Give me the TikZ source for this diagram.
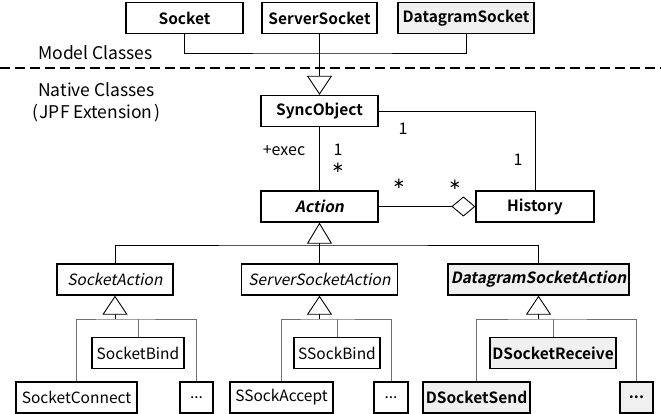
\documentclass[tikz,border=0pt]{standalone}
\usepackage{fontspec}
\setmainfont{Noto Sans CJK JP}[
  BoldFont={Noto Sans CJK JP Bold},
  ItalicFont={Noto Sans CJK JP},
  ItalicFeatures={FakeSlant=0.2},
  BoldItalicFont={Noto Sans CJK JP Bold},
  BoldItalicFeatures={FakeSlant=0.2}]
\newfontfamily\symfont{DejaVu Sans}
\usetikzlibrary{arrows.meta}
\definecolor{boxgray}{HTML}{F0F0F0}
\definecolor{subline}{HTML}{707070}

\begin{document}
\begin{tikzpicture}[x=1pt,y=-1pt,
  txt/.style={font=\fontsize{15.5}{18}\selectfont},
  box/.style={draw, line width=1.3pt, minimum height=31pt, inner sep=0pt, txt},
  cls/.style={box, font=\fontsize{15.5}{18}\selectfont\bfseries},
  abs/.style={box, font=\fontsize{15.5}{18}\selectfont\itshape},
  absb/.style={box, font=\fontsize{15.5}{18}\selectfont\bfseries\itshape},
  shaded/.style={fill=boxgray},
  lbl/.style={inner sep=0pt, font=\fontsize{17.5}{20}\selectfont},
  mult/.style={inner sep=0pt, font=\fontsize{16}{18}\selectfont},
  star/.style={inner sep=0pt, anchor=base, font=\symfont\fontsize{15}{18}\selectfont},
  conn/.style={draw, line width=0.9pt},
  sub/.style={draw, line width=0.9pt, subline},
  gen/.style={-{Triangle[length=19pt, width=25pt, fill=white]}},
  agg/.style={-{Diamond[length=24pt, width=20pt, fill=white]}}
]
\useasboundingbox (0,0) rectangle (661,414);

% model classes
\node[cls, minimum width=117pt] (socket) at (184.5,18) {Socket};
\node[cls, minimum width=115pt] (server) at (319.5,18) {ServerSocket};
\node[cls, shaded, minimum width=136pt] (dgram) at (466,18) {DatagramSocket};

% section captions and separator
\node[lbl, anchor=west] (model) at (38,53) {Model Classes};
\node[lbl, anchor=west] (native) at (38,90) {Native Classes};
\node[lbl, anchor=west] (jpf) at (32,113) {(\kern1.5pt JPF Extension\kern1.5pt)};
\coordinate (sepL) at (0,68);
\coordinate (sepR) at (661,68);
\draw[line width=1.4pt, dash pattern=on 10pt off 5pt] (sepL) -- (sepR);

% native classes
\node[cls, minimum width=117pt] (sync) at (319.5,111) {SyncObject};
\node[absb, minimum width=117pt] (action) at (319.5,206.5) {Action};
\node[cls, minimum width=118pt] (history) at (535,206.5) {History};

\node[abs, minimum width=116pt] (sockact) at (115,279.5) {SocketAction};
\node[abs, minimum width=156pt] (ssact) at (319.5,279.5) {ServerSocketAction};
\node[absb, shaded, minimum width=181pt] (dgact) at (538.5,279.5) {DatagramSocketAction};

\node[box, minimum width=92pt] (sbind) at (138,353) {SocketBind};
\node[box, minimum width=121pt] (sconn) at (76.5,397.5) {SocketConnect};
\node[box, minimum width=33pt] (dotsA) at (196.5,397.5) {...};

\node[box, minimum width=86pt] (ssbind) at (337,353) {SSockBind};
\node[box, minimum width=103pt] (ssacc) at (281.5,397.5) {SSockAccept};
\node[box, minimum width=34pt] (dotsB) at (391,397.5) {...};

\node[cls, shaded, minimum width=126pt] (drecv) at (553,353) {DSocketReceive};
\node[cls, shaded, minimum width=107pt] (dsend) at (476.5,397.5) {DSocketSend};
\node[cls, shaded, minimum width=33pt] (dotsC) at (636.5,397.5) {...};

% model classes generalise SyncObject
\coordinate (topjoin) at (319.5,53);
\draw[conn] (socket.south) |- (topjoin) -| (dgram.south);
\draw[conn, gen] (server.south) -- (sync.north);

% associations
\draw[conn] (sync.east) -| (history.north);
\node[mult] (mSyncH) at (403,129) {1};
\node[mult] (mHistS) at (518,160) {1};

\draw[conn] (sync.south) -- (action.north);
\node[mult] (exec) at (284,151) {+exec};
\node[mult] (mSyncA) at (338,150) {1};
\node[star] (mActS) at (338,172.5) {∗};

\draw[conn, agg] (action.east) -- (history.west);
\node[star] (mActH) at (399,188.5) {∗};
\node[star] (mHistA) at (455,189.5) {∗};

% action hierarchy
\coordinate (hub) at (319.5,245);
\draw[conn, -{Triangle[length=21pt, width=25pt, fill=white]}] (hub) -- (action.south);
\draw[conn] (sockact.north) |- (hub) -| (dgact.north);
\draw[conn] (ssact.north) -- (hub);

\coordinate (hubA) at (115,319);
\draw[conn, gen] (hubA) -- (sockact.south);
\draw[sub] (sconn.north) |- (hubA) -| (dotsA.north);
\draw[sub] (sbind.north) -- (sbind.north |- hubA);

\coordinate (hubB) at (319.5,319);
\draw[conn, gen] (hubB) -- (ssact.south);
\draw[sub] (ssacc.north) |- (hubB) -| (dotsB.north);
\draw[sub] (ssbind.north) -- (ssbind.north |- hubB);

\coordinate (hubC) at (538.5,319);
\draw[conn, gen] (hubC) -- (dgact.south);
\draw[sub] (dsend.north) |- (hubC) -| (dotsC.north);
\draw[sub] (drecv.north) -- (drecv.north |- hubC);
\end{tikzpicture}
\end{document}
